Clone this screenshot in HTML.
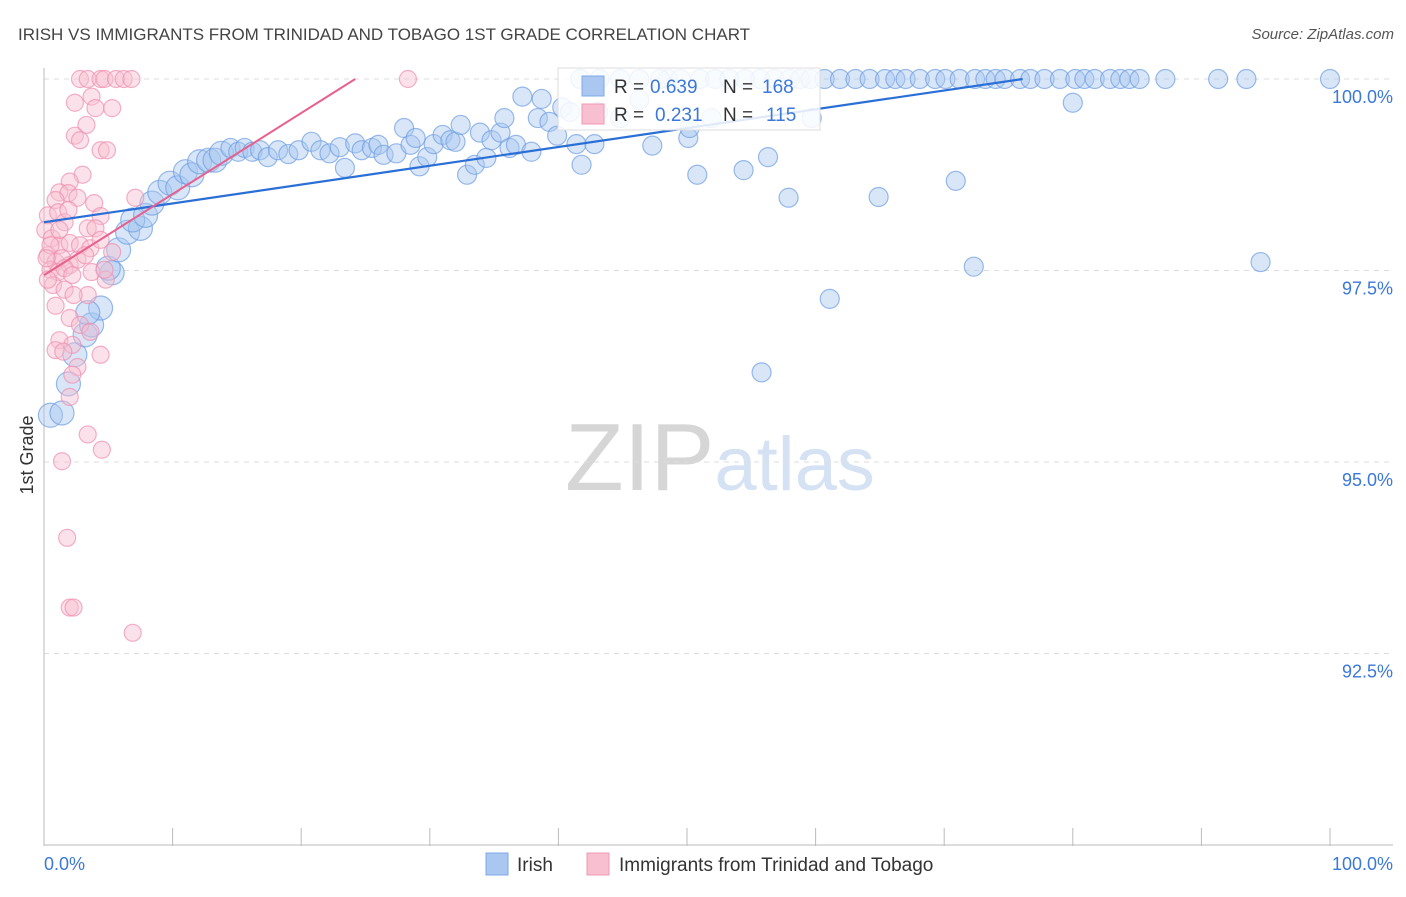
<!DOCTYPE html>
<html><head><meta charset="utf-8"><style>
body{margin:0;background:#fff;font-family:"Liberation Sans",sans-serif;}
svg text{font-family:"Liberation Sans",sans-serif;}
</style></head><body>
<svg id="chart" width="1406" height="892" xmlns="http://www.w3.org/2000/svg">
<text x="18" y="40" font-size="17" fill="#444">IRISH VS IMMIGRANTS FROM TRINIDAD AND TOBAGO 1ST GRADE CORRELATION CHART</text>
<text x="1394" y="39" font-size="15" fill="#555" text-anchor="end" font-style="italic">Source: ZipAtlas.com</text>
<text x="720" y="490" font-size="96" text-anchor="middle" fill="#ddd" font-family="Liberation Serif"><tspan fill="#d6d6d6">ZIP</tspan><tspan fill="#d4e2f4" font-family="Liberation Sans" font-size="76">atlas</tspan></text>
<g id="grid"></g>
<g id="axes"></g>
<g id="pts"></g>
<g id="trends"></g>
<g>
<rect x="558" y="68" width="262" height="62" fill="#fff" fill-opacity="0.85" stroke="#ddd"/>
<rect x="582" y="76" width="22" height="20" fill="#a9c7f0" stroke="#7fa8e6"/>
<rect x="582" y="104" width="22" height="20" fill="#f7bfd0" stroke="#ef9ab4"/>
<text x="614" y="93" font-size="19" fill="#333">R =</text>
<text x="650" y="93" font-size="19" fill="#3b78d8">0.639</text>
<text x="723" y="93" font-size="19" fill="#333">N =</text>
<text x="762" y="93" font-size="19" fill="#3b78d8">168</text>
<text x="614" y="121" font-size="19" fill="#333">R =</text>
<text x="655" y="121" font-size="19" fill="#3b78d8">0.231</text>
<text x="723" y="121" font-size="19" fill="#333">N =</text>
<text x="766" y="121" font-size="19" fill="#3b78d8">115</text>
</g>
<g>
<rect x="486" y="853" width="22" height="22" fill="#a9c7f0" stroke="#7fa8e6"/>
<text x="517" y="871" font-size="19" fill="#333">Irish</text>
<rect x="587" y="853" width="22" height="22" fill="#f7bfd0" stroke="#ef9ab4"/>
<text x="619" y="871" font-size="19" fill="#333">Immigrants from Trinidad and Tobago</text>
</g>
<text transform="translate(33,455) rotate(-90)" font-size="18" fill="#333" text-anchor="middle">1st Grade</text>
</svg>
<script>
const yTicks=[100,97.5,95,92.5];
const yTickLabels=["100.0%","97.5%","95.0%","92.5%"];
const blueX=[0.5,1.4,1.9,2.4,3.2,3.7,4.4,3.4,5.3,5.0,5.8,6.5,7.5,6.9,7.9,8.4,9.0,9.8,10.4,11.0,11.5,12.1,12.8,13.3,13.8,14.5,15.1,15.6,16.2,16.8,17.4,18.2,19.0,19.8,20.8,21.5,22.2,23.0,23.4,24.2,24.7,25.5,26.0,26.4,27.4,28.0,28.5,28.9,29.2,29.8,30.3,31.0,31.6,32.0,32.4,32.9,33.5,33.9,34.4,34.8,35.5,35.8,36.2,36.7,37.2,37.9,38.4,38.7,39.3,39.9,40.3,40.9,41.4,41.8,42.8,43.1,44.8,46.3,47.3,48.5,50.1,50.2,50.8,51.9,54.4,56.3,57.9,61.1,55.8,64.9,70.9,72.3,80.0,94.6,59.7,
41.7,43.2,44.8,46.3,47.9,49.5,51.0,52.2,53.3,54.5,55.7,56.8,58.0,58.8,59.6,60.7,61.9,63.1,64.2,65.4,66.2,67.0,68.1,69.3,70.1,71.2,72.4,73.2,74.0,74.7,75.9,76.7,77.8,79.0,80.2,80.9,81.7,82.9,83.7,84.4,85.2,87.2,91.3,93.5,100];
const blueY=[95.61,95.64,96.02,96.4,96.66,96.79,97.01,96.95,97.47,97.53,97.77,98.0,98.05,98.16,98.22,98.38,98.52,98.64,98.58,98.79,98.75,98.92,98.94,98.94,99.03,99.1,99.05,99.1,99.05,99.07,98.98,99.07,99.02,99.07,99.18,99.07,99.03,99.11,98.84,99.16,99.07,99.1,99.14,99.01,99.03,99.36,99.14,99.23,98.86,98.98,99.15,99.27,99.2,99.18,99.4,98.75,98.88,99.3,98.97,99.2,99.3,99.49,99.1,99.14,99.77,99.05,99.49,99.74,99.44,99.26,99.63,99.57,99.15,98.88,99.15,99.57,99.49,99.73,99.13,100,99.23,99.36,98.75,99.49,98.81,98.98,98.45,97.13,96.17,98.46,98.67,97.55,99.69,97.61,99.49,
100,100,100,100,100,100,100,100,100,100,100,100,100,100,100,100,100,100,100,100,100,100,100,100,100,100,100,100,100,100,100,100,100,100,100,100,100,100,100,100,100,100,100,100,100];
const pinkX=[2.8,3.4,4.4,4.7,5.6,6.2,6.8,28.3,2.4,3.7,4.0,5.3,3.3,2.4,2.8,4.4,4.9,3.0,2.0,1.2,1.9,0.9,2.6,3.9,4.4,0.3,1.1,1.6,3.4,4.0,7.1,0.1,0.6,1.2,2.0,2.8,3.6,0.3,0.9,1.4,2.0,2.6,0.5,1.1,1.6,2.2,3.7,4.8,0.7,1.6,3.4,0.9,2.0,2.8,1.2,0.9,2.2,3.6,1.5,4.4,2.6,2.2,2.0,3.4,4.5,1.4,1.8,2.0,2.3,6.9,0.5,1.2,1.9,5.3,4.7,2.3,4.4,0.2,0.3,3.2];
const pinkY=[100,100,100,100,100,100,100,100,99.69,99.77,99.62,99.62,99.4,99.26,99.2,99.07,99.07,98.75,98.66,98.52,98.51,98.42,98.45,98.38,98.21,98.22,98.26,98.13,98.05,98.05,98.45,98.03,97.92,97.83,97.86,97.83,97.79,97.7,97.61,97.66,97.57,97.64,97.51,97.48,97.53,97.44,97.48,97.38,97.31,97.25,97.18,97.04,96.88,96.79,96.59,96.46,96.53,96.7,96.44,96.4,96.24,96.14,95.85,95.36,95.16,95.01,94.01,93.1,93.1,92.77,97.83,98.03,98.29,97.74,97.51,97.18,97.9,97.66,97.38,97.7];
const blueTrend=[[0,98.13],[76.1,100]];
const pinkTrend=[[0,97.44],[24.2,100]];
const NS='http://www.w3.org/2000/svg';
const xS=v=>44+v*12.86, yS=v=>79+(100-v)*76.6;
function mk(t,a,p){const e=document.createElementNS(NS,t);for(const k in a)e.setAttribute(k,a[k]);p.appendChild(e);return e;}
const grid=document.getElementById('grid'),axes=document.getElementById('axes'),pts=document.getElementById('pts'),tr=document.getElementById('trends');
yTicks.forEach((t,i)=>{
 const l=mk('line',{x1:44,x2:1393,y1:yS(t),y2:yS(t),stroke:'#ddd','stroke-dasharray':'5,5'},grid);
 
 
 const tx=mk('text',{x:1393,y:yS(t)+24,'font-size':18,fill:'#3b78d8','text-anchor':'end'},axes);
 tx.textContent=yTickLabels[i];
 
 
});
mk('line',{x1:44,x2:44,y1:68,y2:846,stroke:'#bbb'},axes);
mk('line',{x1:44,x2:1393,y1:845,y2:845,stroke:'#bbb'},axes);
for(let i=0;i<=10;i++){const x=xS(i*10);mk('line',{x1:x,x2:x,y1:828,y2:846,stroke:'#bbb'},axes);}
const xl=mk('text',{x:44,y:870,'font-size':18,fill:'#3b78d8'},axes);xl.textContent='0.0%';


const xr=mk('text',{x:1393,y:870,'font-size':18,fill:'#3b78d8','text-anchor':'end'},axes);xr.textContent='100.0%';


blueX.forEach((x,i)=>{
 const r=x<14?12:9.5;
 const c=mk('circle',{cx:xS(x),cy:yS(blueY[i]),r:r,fill:'#a9c7f0','fill-opacity':0.45,stroke:'#6f9ee3','stroke-opacity':0.7,'stroke-width':1.2},pts);
 
 
});
pinkX.forEach((x,i)=>{
 const c=mk('circle',{cx:xS(x),cy:yS(pinkY[i]),r:8.5,fill:'#f7bfd0','fill-opacity':0.45,stroke:'#ef8fae','stroke-opacity':0.7,'stroke-width':1.2},pts);
 
 
});
const b=mk('line',{x1:xS(blueTrend[0][0]),y1:yS(blueTrend[0][1]),x2:xS(blueTrend[1][0]),y2:yS(blueTrend[1][1]),stroke:'#2a6fd6','stroke-width':2.2},tr);


const p=mk('line',{x1:xS(pinkTrend[0][0]),y1:yS(pinkTrend[0][1]),x2:xS(pinkTrend[1][0]),y2:yS(pinkTrend[1][1]),stroke:'#e8608c','stroke-width':2},tr);


</script>
</body></html>
